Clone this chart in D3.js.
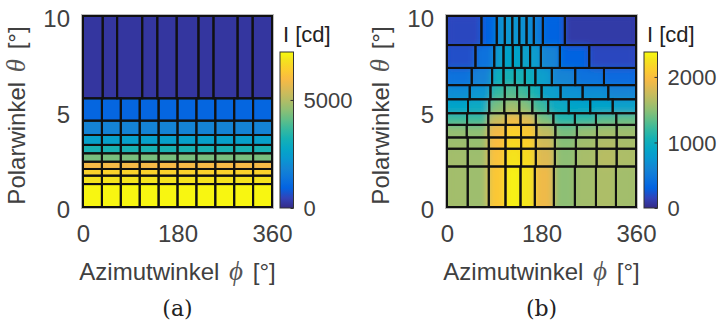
<!DOCTYPE html>
<html>
<head>
<meta charset="utf-8">
<script src="https://cdn.jsdelivr.net/npm/d3@7"></script>
<style>
  body { margin: 0; background: #fff; }
  svg { display: block; }
</style>
</head>
<body>
<script>
// ---------- Panel (a): equal azimuth split ----------
const thetaEdgesA = [0, 1.2, 1.64, 1.99, 2.37, 2.81, 3.25, 3.77, 4.52, 5.69, 10];
const phiEvenA = [0, 36, 72, 108, 144, 180, 216, 252, 288, 324, 360];
const phiTopA = [0, 37.5, 65, 112.8, 141.5, 178.4, 219.9, 248.5, 294.4, 323.1, 360];
// one intensity per theta band, bottom to top [cd]
const intensityA = [7150, 6860, 6500, 5920, 4330, 3250, 2530, 1800, 1010, 220];
const maxA = 7220;
const cbTicksA = [0, 5000];

// ---------- Panel (b): adaptive azimuth split ----------
const thetaEdgesB = [0, 2.12, 3.05, 3.64, 4.30, 4.91, 5.64, 6.38, 7.28, 8.48, 10];
// azimuth edges per theta band, bottom to top [deg]
const phiEdgesB = [
  [0, 39.5, 79.6, 111.4, 140.0, 167.3, 203.6, 243.6, 283.7, 321.8, 360],
  [0, 39.5, 79.6, 111.4, 141.2, 169.2, 205.5, 245.5, 285.0, 323.2, 360],
  [0, 39.5, 79.6, 111.4, 141.2, 169.2, 205.5, 245.5, 285.0, 323.2, 360],
  [0, 37.6, 79.0, 111.6, 141.0, 170.2, 206.4, 247.4, 285.6, 323.2, 360],
  [0, 38.2, 78.6, 112.0, 140.0, 169.2, 202.6, 243.6, 283.7, 322.4, 360],
  [0, 40.0, 80.5, 109.1, 137.7, 162.5, 192.7, 231.8, 272.8, 315.6, 360],
  [0, 43.3, 82.8, 110.1, 133.5, 156.4, 180.1, 216.3, 258.3, 307.2, 360],
  [0, 47.1, 85.9, 107.6, 129.2, 148.2, 168.3, 199.7, 244.2, 299.0, 360],
  [0, 54.2, 90.0, 107.6, 125.3, 141.6, 158.3, 178.8, 215.0, 270.9, 360],
  [0, 65.6, 94.8, 110.1, 124.4, 137.7, 151.5, 165.4, 182.6, 224.5, 360]
];
// intensity per cell, bottom to top [cd]
const intensityB = [
  [1580, 1560, 2060, 2330, 2280, 1920, 1500, 1580, 1620, 1580],
  [1580, 1560, 2020, 2260, 2200, 1840, 1500, 1600, 1660, 1620],
  [1560, 1540, 1990, 2200, 2140, 1780, 1480, 1580, 1640, 1600],
  [1520, 1500, 1940, 2140, 2080, 1700, 1420, 1520, 1580, 1560],
  [1240, 1240, 1720, 1920, 1830, 1430, 1140, 1190, 1310, 1360],
  [ 880,  950, 1430, 1570, 1480, 1240,  950,  880,  880,  860],
  [ 670,  740, 1190, 1310, 1240, 1070,  830,  710,  670,  600],
  [ 430,  570, 1000, 1070, 1050, 1000,  830,  600,  430,  360],
  [ 210,  430,  830,  880,  880,  860,  810,  600,  310,  170],
  [ 170,  310,  710,  760,  760,  710,  670,  520,  310,   95]
];
const maxB = 2380;
const cbTicksB = [0, 1000, 2000];

const thetaTicks = [0, 5, 10];
const phiTicks = [0, 180, 360];

// parula colour map anchors
const parulaRGB = [
  [0.2081, 0.1663, 0.5292], [0.1959, 0.2645, 0.7279], [0.0117, 0.3875, 0.8820],
  [0.0498, 0.4586, 0.8641], [0.0793, 0.5200, 0.8312], [0.0343, 0.5966, 0.8199],
  [0.0228, 0.6535, 0.7768], [0.0843, 0.6928, 0.7062], [0.2178, 0.7250, 0.6193],
  [0.3953, 0.7459, 0.5244], [0.5709, 0.7485, 0.4494], [0.7184, 0.7411, 0.3905],
  [0.8507, 0.7299, 0.3360], [0.9739, 0.7314, 0.2666], [0.9880, 0.8066, 0.1794],
  [0.9589, 0.8949, 0.1132], [0.9763, 0.9831, 0.0538]
];
const parulaPos = [0, 4, 8, 12, 16, 20, 24, 28, 32, 36, 40, 44, 48, 52, 56, 60, 63].map(i => i / 63);
const parula = d3.scaleLinear()
  .domain(parulaPos)
  .range(parulaRGB.map(c => d3.rgb(c[0] * 255, c[1] * 255, c[2] * 255)))
  .interpolate(d3.interpolateRgb)
  .clamp(true);

const W = 723, H = 325;
const TXT = "#404040";
const SANS = "'Liberation Sans', Arial, sans-serif";
const SERIF = "'Liberation Serif', 'DejaVu Serif', serif";

const svg = d3.select("body").append("svg").attr("width", W).attr("height", H);
const defs = svg.append("defs");
defs.append("filter").attr("id", "soft")
  .attr("x", "-5%").attr("y", "-5%").attr("width", "110%").attr("height", "110%")
  .append("feGaussianBlur").attr("stdDeviation", 3.5);

function cellsFrom(thetaEdges, phiRows, valueRows) {
  const out = [];
  for (let r = 0; r < thetaEdges.length - 1; r++) {
    const pe = phiRows[r];
    for (let c = 0; c < pe.length - 1; c++) {
      out.push({ t0: thetaEdges[r], t1: thetaEdges[r + 1], p0: pe[c], p1: pe[c + 1], v: valueRows[r][c] });
    }
  }
  return out;
}

function labelWithSymbol(sel, before, symbol, after) {
  sel.append("tspan").text(before);
  sel.append("tspan").attr("dx", 3).attr("font-family", SERIF).attr("font-style", "italic")
    .attr("font-size", 27).attr("fill", "#555").text(symbol);
  sel.append("tspan").attr("dx", 3).text(after);
}

function drawPanel(cfg) {
  const top = 16, bottom = 207, pw = 189;
  const x = d3.scaleLinear().domain([0, 360]).range([cfg.x0, cfg.x0 + pw]);
  const y = d3.scaleLinear().domain([0, 10]).range([bottom, top]);
  const color = v => parula(v / cfg.vmax);
  const g = svg.append("g");

  const clipId = "clip" + cfg.id;
  defs.append("clipPath").attr("id", clipId).append("rect")
    .attr("x", x(0)).attr("y", y(10)).attr("width", x(360) - x(0)).attr("height", y(0) - y(10));

  const fillCell = sel => sel
    .attr("x", d => x(d.p0)).attr("y", d => y(d.t1))
    .attr("width", d => x(d.p1) - x(d.p0)).attr("height", d => y(d.t0) - y(d.t1))
    .attr("fill", d => color(d.v));

  // axes box
  g.append("rect").attr("x", x(0) - 1.5).attr("y", y(10) - 1.5)
    .attr("width", x(360) - x(0) + 3).attr("height", y(0) - y(10) + 3)
    .attr("fill", "none").attr("stroke", "#bbb").attr("stroke-width", 1);

  const base = g.append("g").attr("clip-path", `url(#${clipId})`);
  base.selectAll("rect").data(cfg.cells).join("rect").call(fillCell).attr("stroke", "none");
  if (cfg.soft) {
    const soft = g.append("g").attr("clip-path", `url(#${clipId})`)
      .append("g").attr("filter", "url(#soft)");
    soft.selectAll("rect").data(cfg.cells).join("rect").call(fillCell)
      .attr("stroke", d => color(d.v)).attr("stroke-width", 1);
  }
  // cell outlines
  g.append("g").selectAll("rect").data(cfg.cells).join("rect")
    .attr("x", d => x(d.p0)).attr("y", d => y(d.t1))
    .attr("width", d => x(d.p1) - x(d.p0)).attr("height", d => y(d.t0) - y(d.t1))
    .attr("fill", "none").attr("stroke", "#111").attr("stroke-width", 2);

  // axes
  const ay = g.append("g").attr("transform", `translate(${x(0)},0)`)
    .call(d3.axisLeft(y).tickValues(thetaTicks).tickSize(0).tickPadding(13));
  const ax = g.append("g").attr("transform", `translate(0,${bottom})`)
    .call(d3.axisBottom(x).tickValues(phiTicks).tickSize(0).tickPadding(18));
  [ay, ax].forEach(a => {
    a.select(".domain").remove();
    a.selectAll("text").attr("font-family", SANS).attr("font-size", 24).attr("fill", TXT);
  });
  ay.selectAll("text").attr("dy", "0.45em");

  // axis titles
  const yl = g.append("text")
    .attr("transform", `translate(${x(0) - 58},${(top + bottom) / 2 + 4}) rotate(-90)`)
    .attr("text-anchor", "middle").attr("font-family", SANS).attr("font-size", 24).attr("fill", TXT);
  labelWithSymbol(yl, "Polarwinkel ", "θ", " [°]");

  const xl = g.append("text")
    .attr("x", x(180)).attr("y", 280)
    .attr("text-anchor", "middle").attr("font-family", SANS).attr("font-size", 24).attr("fill", TXT);
  labelWithSymbol(xl, "Azimutwinkel ", "ϕ", " [°]");

  g.append("text").attr("x", x(180)).attr("y", 316).attr("text-anchor", "middle")
    .attr("font-family", "'DejaVu Serif', serif").attr("font-size", 22).attr("fill", "#222").text(cfg.letter);

  // colour bar
  const cbX = cfg.x0 + pw + 8, cbW = 13.5, cbTop = 52, cbBot = 208;
  const cb = d3.scaleLinear().domain([0, cfg.vmax]).range([cbBot, cbTop]);
  const gradId = "grad" + cfg.id;
  const grad = defs.append("linearGradient").attr("id", gradId)
    .attr("x1", 0).attr("y1", 1).attr("x2", 0).attr("y2", 0);
  grad.selectAll("stop").data(d3.range(0, 1.0001, 1 / 63)).join("stop")
    .attr("offset", d => d).attr("stop-color", d => color(d * cfg.vmax));
  g.append("rect").attr("x", cbX).attr("y", cb(cfg.vmax)).attr("width", cbW)
    .attr("height", cb(0) - cb(cfg.vmax)).attr("fill", `url(#${gradId})`)
    .attr("stroke", "#333").attr("stroke-width", 1);
  const acb = g.append("g").attr("transform", `translate(${cbX + cbW},0)`)
    .call(d3.axisRight(cb).tickValues(cfg.cbTicks).tickSizeInner(-3).tickSizeOuter(0).tickPadding(10).tickFormat(d3.format("d")));
  acb.select(".domain").remove();
  acb.selectAll("line").attr("stroke", "#333");
  acb.selectAll("text").attr("font-family", SANS).attr("font-size", 22).attr("fill", TXT).attr("dy", "0.36em");
  g.append("text").attr("x", cbX + 3).attr("y", 42)
    .attr("font-family", SANS).attr("font-size", 22).attr("fill", "#222").text("I [cd]");
}

const phiRowsA = thetaEdgesA.slice(0, -1).map((t, i) => i === thetaEdgesA.length - 2 ? phiTopA : phiEvenA);
const valueRowsA = phiRowsA.map((pe, i) => pe.slice(0, -1).map(() => intensityA[i]));

drawPanel({ id: "a", x0: 83, cells: cellsFrom(thetaEdgesA, phiRowsA, valueRowsA), vmax: maxA, cbTicks: cbTicksA, letter: "(a)", soft: false });
drawPanel({ id: "b", x0: 447, cells: cellsFrom(thetaEdgesB, phiEdgesB, intensityB), vmax: maxB, cbTicks: cbTicksB, letter: "(b)", soft: true });
</script>
</body>
</html>
